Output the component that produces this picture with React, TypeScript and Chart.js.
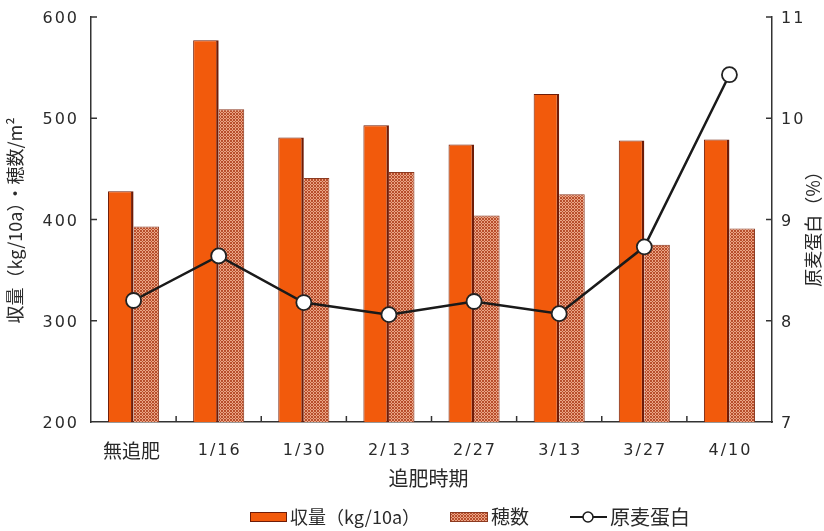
import React, { useEffect, useRef } from 'react';
import { Chart, registerables } from 'chart.js';

Chart.register(...registerables);

// 追肥時期ごとの収量・穂数・原麦蛋白
const categories = ['無追肥', '1/16', '1/30', '2/13', '2/27', '3/13', '3/27', '4/10'];
const yieldValues = [428, 577, 481, 493, 474, 524, 478, 479];
const earCounts = [393, 509, 441, 447, 404, 425, 375, 391];
const protein = [8.2, 8.64, 8.18, 8.06, 8.19, 8.07, 8.73, 10.43];

const leftTicks = [200, 300, 400, 500, 600];
const rightTicks = [7, 8, 9, 10, 11];

const CJK = '"Noto Sans CJK JP", "Noto Sans", sans-serif';
const NUM = '"DejaVu Sans", sans-serif';
const INK = '#2a2a2a';
const AXIS = '#333333';
const ORANGE = '#f25a0c';
const ORANGE_EDGE = '#6e1c08';
const HATCH_EDGE = '#8c3a20';

function makeHatch(): CanvasPattern | string {
  const c = document.createElement('canvas');
  c.width = 3;
  c.height = 3;
  const g = c.getContext('2d');
  if (!g) return '#d48062';
  g.fillStyle = '#eaa586';
  g.fillRect(0, 0, 3, 3);
  g.fillStyle = '#b84e2c';
  [[0, 0], [1, 1], [2, 2], [2, 0], [0, 2]].forEach(([x, y]) => g.fillRect(x, y, 1, 1));
  return g.createPattern(c, 'repeat') || '#d48062';
}

const decor = {
  id: 'decor',
  beforeDraw(chart: any) {
    const ctx = chart.ctx;
    ctx.save();
    ctx.fillStyle = '#ffffff';
    ctx.fillRect(0, 0, chart.width, chart.height);
    ctx.restore();
  },
  afterDraw(chart: any) {
    const ctx: CanvasRenderingContext2D = chart.ctx;
    const { left, right, top, bottom } = chart.chartArea;
    const xs = chart.scales.x;
    const ys = chart.scales.y;
    const y1 = chart.scales.y1;
    const ds = chart.data.datasets;
    ctx.save();

    // inward tick marks
    ctx.strokeStyle = AXIS;
    ctx.lineWidth = 1.5;
    const seg = (x0: number, y0: number, x1: number, yy1: number) => {
      ctx.beginPath();
      ctx.moveTo(x0, y0);
      ctx.lineTo(x1, yy1);
      ctx.stroke();
    };
    leftTicks.forEach((v) => {
      if (v === ys.min) return;
      const py = ys.getPixelForValue(v);
      seg(left, py, left + 6, py);
    });
    rightTicks.forEach((v) => {
      if (v === y1.min) return;
      const py = y1.getPixelForValue(v);
      seg(right, py, right - 6, py);
    });
    for (let i = 1; i < categories.length; i++) {
      const px = (xs.getPixelForValue(i - 1) + xs.getPixelForValue(i)) / 2;
      seg(px, bottom, px, bottom - 6);
    }

    // tick labels
    ctx.fillStyle = INK;
    ctx.textBaseline = 'middle';
    ctx.font = `16px ${NUM}`;
    (ctx as any).letterSpacing = '2px';
    ctx.textAlign = 'right';
    leftTicks.forEach((v) => ctx.fillText(String(v), left - 12, ys.getPixelForValue(v) + 2));
    ctx.textAlign = 'left';
    rightTicks.forEach((v) => ctx.fillText(String(v), right + 9, y1.getPixelForValue(v) + 2));
    ctx.textAlign = 'center';
    categories.forEach((c, i) => {
      const px = xs.getPixelForValue(i);
      if (/^[0-9/]+$/.test(c)) {
        ctx.font = `16px ${NUM}`;
        (ctx as any).letterSpacing = '2px';
        ctx.fillText(c, px + 1, bottom + 29);
      } else {
        ctx.font = `19px ${CJK}`;
        (ctx as any).letterSpacing = '0px';
        ctx.fillText(c, px - 2, bottom + 29);
      }
    });
    (ctx as any).letterSpacing = '0px';

    // axis titles
    ctx.font = `20px ${CJK}`;
    ctx.fillText('追肥時期', (left + right) / 2 - 3, bottom + 56);

    ctx.font = `18px ${CJK}`;
    ctx.save();
    ctx.translate(15, (top + bottom) / 2 + 1);
    ctx.rotate(-Math.PI / 2);
    ctx.fillText('収量（kg/10a）・穂数/m²', 0, 0);
    ctx.restore();

    ctx.save();
    ctx.translate(813, (top + bottom) / 2 + 5);
    ctx.rotate(-Math.PI / 2);
    ctx.fillText('原麦蛋白（%）', 0, 0);
    ctx.restore();

    // legend
    const ly = 517;
    ctx.textAlign = 'left';
    ctx.lineWidth = 1;
    ctx.fillStyle = ds[1].backgroundColor;
    ctx.fillRect(250, ly - 5, 37, 10);
    ctx.strokeStyle = ORANGE_EDGE;
    ctx.strokeRect(250.5, ly - 4.5, 36, 9);
    ctx.fillStyle = INK;
    ctx.font = `18px ${CJK}`;
    ctx.fillText(ds[1].label, 290, ly);

    ctx.fillStyle = ds[2].backgroundColor;
    ctx.fillRect(450, ly - 5, 38, 10);
    ctx.strokeStyle = HATCH_EDGE;
    ctx.strokeRect(450.5, ly - 4.5, 37, 9);
    ctx.fillStyle = INK;
    ctx.font = `19px ${CJK}`;
    ctx.fillText(ds[2].label, 491, ly);

    ctx.strokeStyle = ds[0].borderColor;
    ctx.lineWidth = 2;
    seg(570, ly, 607, ly);
    ctx.beginPath();
    ctx.arc(588, ly, 5, 0, Math.PI * 2);
    ctx.fillStyle = '#ffffff';
    ctx.fill();
    ctx.lineWidth = 1.5;
    ctx.stroke();
    ctx.fillStyle = INK;
    ctx.font = `20px ${CJK}`;
    ctx.fillText(ds[0].label, 610, ly);

    ctx.restore();
  },
};

export default function App() {
  const ref = useRef<HTMLCanvasElement>(null);

  useEffect(() => {
    const canvas = ref.current;
    if (!canvas) return;
    const hatch = makeHatch();
    const chart = new Chart(canvas, {
      type: 'bar',
      data: {
        labels: categories,
        datasets: [
          {
            type: 'line',
            label: '原麦蛋白',
            data: protein,
            yAxisID: 'y1',
            order: 0,
            borderColor: '#1a1a1a',
            borderWidth: 2.5,
            tension: 0,
            pointRadius: 7.5,
            pointBorderWidth: 1.8,
            pointBackgroundColor: '#ffffff',
            pointBorderColor: '#222222',
          },
          {
            type: 'bar',
            label: '収量（kg/10a）',
            data: yieldValues,
            yAxisID: 'y',
            order: 1,
            backgroundColor: ORANGE,
            borderColor: ORANGE_EDGE,
            borderWidth: { top: 1, left: 1, right: 2.5, bottom: 0 },
            borderSkipped: false,
            categoryPercentage: 0.6,
            barPercentage: 1.0,
          },
          {
            type: 'bar',
            label: '穂数',
            data: earCounts,
            yAxisID: 'y',
            order: 2,
            backgroundColor: hatch as any,
            borderColor: HATCH_EDGE,
            borderWidth: { top: 1, left: 0, right: 1, bottom: 0 },
            borderSkipped: false,
            categoryPercentage: 0.6,
            barPercentage: 1.0,
          },
        ],
      } as any,
      options: {
        responsive: false,
        animation: false,
        layout: { padding: { top: 17, left: 0, right: 0, bottom: 0 } },
        plugins: {
          legend: { display: false },
          tooltip: { enabled: false },
        },
        scales: {
          x: {
            offset: true,
            grid: { display: true, drawOnChartArea: false, drawTicks: false },
            border: { display: true, color: AXIS, width: 1.5 },
            ticks: { display: false },
            afterFit: (s: any) => {
              s.height = 109;
            },
          },
          y: {
            position: 'left',
            min: 200,
            max: 600,
            ticks: { display: false, stepSize: 100 },
            grid: { display: true, drawOnChartArea: false, drawTicks: false },
            border: { display: true, color: AXIS, width: 1.5 },
            afterFit: (s: any) => {
              s.width = 91;
            },
          },
          y1: {
            position: 'right',
            min: 7,
            max: 11,
            ticks: { display: false, stepSize: 1 },
            grid: { display: true, drawOnChartArea: false, drawTicks: false },
            border: { display: true, color: AXIS, width: 1.5 },
            afterFit: (s: any) => {
              s.width = 52;
            },
          },
        },
      } as any,
      plugins: [decor],
    });
    return () => chart.destroy();
  }, []);

  return (
    <div style={{ position: 'fixed', left: 0, top: 0, width: 824, height: 531, background: '#ffffff' }}>
      <canvas ref={ref} width={824} height={531} style={{ display: 'block' }} />
    </div>
  );
}
